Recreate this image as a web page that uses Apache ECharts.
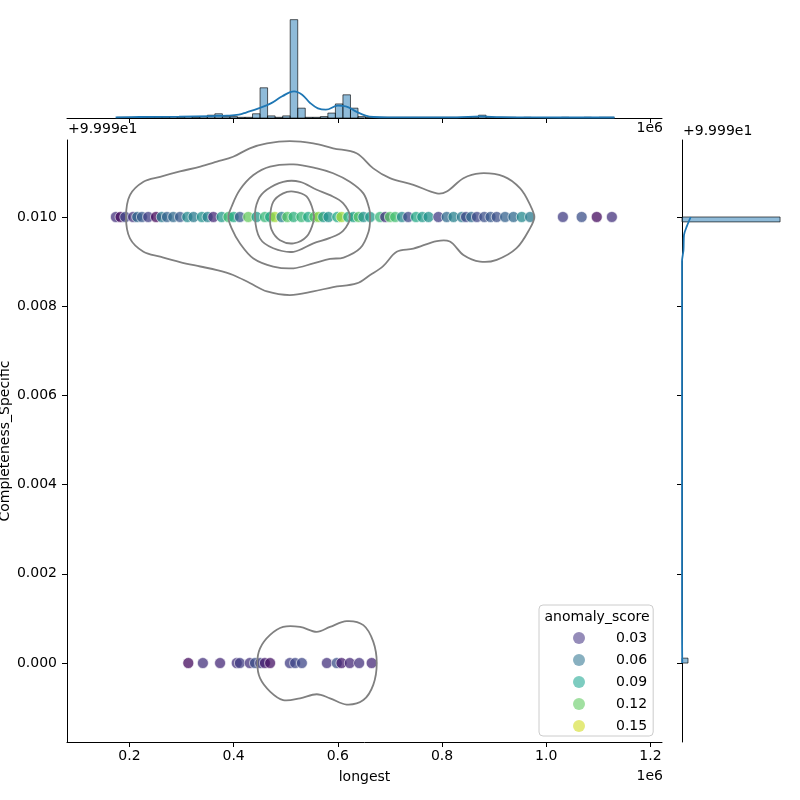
<!DOCTYPE html>
<html>
<head>
<meta charset="utf-8">
<script src="https://cdn.jsdelivr.net/npm/echarts@6/dist/echarts.min.js"></script>
<style>
  html, body { margin: 0; padding: 0; background: #fff; }
  #chart { width: 800px; height: 800px; }
</style>
</head>
<body>
<div id="chart"></div>
<script>
// longest in units of 1e6, Completeness_Specific as offset from 99.99
const upperLongest = [0.174, 0.183, 0.192, 0.207, 0.215, 0.224, 0.236, 0.251, 0.262, 0.272, 0.284, 0.297, 0.311, 0.323,
  0.339, 0.350, 0.361, 0.377, 0.390, 0.400, 0.412, 0.428, 0.444, 0.460, 0.470, 0.479, 0.492, 0.503, 0.515, 0.530,
  0.543, 0.555, 0.563, 0.572, 0.582, 0.599, 0.607, 0.620, 0.630, 0.640, 0.649, 0.662, 0.681, 0.691, 0.700, 0.710,
  0.723, 0.735, 0.750, 0.762, 0.774, 0.793, 0.809, 0.822, 0.838, 0.846, 0.856, 0.867, 0.881, 0.893, 0.905, 0.921,
  0.937, 0.953, 0.969, 1.032, 1.068, 1.097, 1.126];
const upperScore = [0.03, 0.012, 0.04, 0.03, 0.06, 0.05, 0.035, 0.01, 0.07, 0.055, 0.06, 0.05, 0.08, 0.07,
  0.085, 0.075, 0.025, 0.09, 0.115, 0.1, 0.05, 0.125, 0.09, 0.11, 0.1, 0.14, 0.075, 0.12, 0.105, 0.11,
  0.1, 0.12, 0.135, 0.09, 0.085, 0.1, 0.14, 0.1, 0.095, 0.12, 0.085, 0.09, 0.11, 0.03, 0.12, 0.115,
  0.08, 0.04, 0.1, 0.09, 0.085, 0.035, 0.06, 0.075, 0.07, 0.04, 0.06, 0.04, 0.045, 0.05, 0.045, 0.055,
  0.06, 0.08, 0.07, 0.035, 0.045, 0.012, 0.03];
const lowerLongest = [0.313, 0.341, 0.374, 0.406, 0.412, 0.431, 0.441, 0.451, 0.460, 0.470, 0.508, 0.518, 0.531,
  0.579, 0.598, 0.607, 0.623, 0.641, 0.665];
const lowerScore = [0.012, 0.03, 0.025, 0.03, 0.035, 0.03, 0.045, 0.035, 0.02, 0.015, 0.035, 0.04, 0.04,
  0.03, 0.045, 0.02, 0.025, 0.03, 0.025];
const upperValue = 0.01;
const lowerValue = 0.0;

// marginal histogram of longest
const topBinStart = 0.176;
const topBinWidth = 0.01446;
const topCounts = [1, 1, 1, 1, 1, 1, 1, 2, 1, 2, 1, 2, 4, 6, 2, 2, 1, 1, 6, 43, 3, 1, 3, 140, 14, 1, 1, 2, 7, 20,
  33, 14, 2, 1, 1, 1, 1, 1, 1, 1, 1, 1, 1, 1, 1, 1, 1, 1, 4, 1, 1, 1, 1, 0, 1, 0, 0, 0, 0, 1, 0, 0, 1, 0, 1, 1];
const topKde = [[0.1735, 0.9], [0.219, 1.4], [0.295, 1.9], [0.356, 2.8], [0.387, 3.3], [0.41, 4.7], [0.425, 8.1],
  [0.448, 13.8], [0.4705, 20.4], [0.4933, 30.9], [0.516, 38], [0.5315, 33.2], [0.5467, 21.4], [0.5618, 13.8],
  [0.5771, 11.8], [0.6, 17.5], [0.6152, 16.7], [0.6342, 9.5], [0.6533, 3.3], [0.6685, 1.4], [0.699, 1],
  [0.79, 0.9], [0.8284, 1], [0.874, 2.2], [0.9123, 1.2], [0.981, 0.8], [1.131, 0.7]];

// marginal histogram of Completeness_Specific: [from, to, count]
const rightBins = [[0, 0.00011, 19], [0.00989, 0.01, 310]];
const rightKde = [[0.8, 0], [0.3, 0.0004], [0, 0.001], [0, 0.009], [4.7, 0.00926], [6.3, 0.0096],
  [15.8, 0.0098], [27.5, 0.01]];

// joint kde contours
const contourLevels = [
  [[0.1935, 0.01], [0.201, 0.01049], [0.227, 0.01079], [0.259, 0.0109], [0.297, 0.01102], [0.336, 0.01113],
    [0.368, 0.01124], [0.399, 0.01135], [0.431, 0.01154], [0.464, 0.01165], [0.508, 0.0117], [0.553, 0.01165],
    [0.591, 0.01154], [0.636, 0.01143], [0.668, 0.01109], [0.700, 0.01087], [0.745, 0.01072], [0.790, 0.01053],
    [0.809, 0.01057], [0.841, 0.01087], [0.873, 0.01098], [0.918, 0.01091], [0.950, 0.01064], [0.969, 0.01027],
    [0.977, 0.01], [0.969, 0.00975], [0.943, 0.0093], [0.905, 0.00904], [0.873, 0.009], [0.841, 0.00915],
    [0.815, 0.00945], [0.790, 0.00946], [0.745, 0.00929], [0.713, 0.00922], [0.687, 0.0089], [0.662, 0.0087],
    [0.636, 0.00851], [0.591, 0.00843], [0.553, 0.00833], [0.508, 0.00825], [0.464, 0.00833], [0.431, 0.00852],
    [0.399, 0.0087], [0.368, 0.00881], [0.336, 0.00889], [0.297, 0.00899], [0.259, 0.00911], [0.227, 0.00922],
    [0.201, 0.00952]],
  [[0.390, 0.01], [0.396, 0.01023], [0.412, 0.01061], [0.438, 0.01094], [0.470, 0.01113], [0.515, 0.01118],
    [0.560, 0.01109], [0.591, 0.01098], [0.623, 0.01079], [0.649, 0.01053], [0.660, 0.0102], [0.662, 0.01],
    [0.659, 0.00967], [0.643, 0.0093], [0.611, 0.00909], [0.585, 0.00906], [0.553, 0.00896], [0.515, 0.00885],
    [0.476, 0.00889], [0.438, 0.00907], [0.412, 0.00941], [0.396, 0.00975]],
  [[0.441, 0.01], [0.447, 0.01038], [0.4635, 0.01061], [0.495, 0.01079], [0.5275, 0.01079], [0.5595, 0.01061],
    [0.585, 0.01049], [0.610, 0.01031], [0.623, 0.01], [0.610, 0.00969], [0.585, 0.00953], [0.553, 0.00941],
    [0.515, 0.00922], [0.476, 0.0093], [0.4505, 0.00952]],
  [[0.470, 0.01], [0.476, 0.01034], [0.495, 0.01053], [0.515, 0.01057], [0.540, 0.01046], [0.553, 0.01012],
    [0.553, 0.00989], [0.540, 0.00956], [0.515, 0.00941], [0.489, 0.00948], [0.473, 0.00971]],
  [[0.4455, 0], [0.4507, 0.00033], [0.470, 0.00063], [0.495, 0.00081], [0.5275, 0.00081], [0.5595, 0.0007],
    [0.585, 0.00081], [0.617, 0.00094], [0.649, 0.00085], [0.668, 0.00048], [0.6747, 0], [0.668, -0.00049],
    [0.649, -0.00083], [0.617, -0.00093], [0.585, -0.00079], [0.5595, -0.0007], [0.5275, -0.00079],
    [0.495, -0.00083], [0.470, -0.00064], [0.4507, -0.00034]]
];

const xTicks = [0.2, 0.4, 0.6, 0.8, 1.0, 1.2];
const yTicks = [0, 0.002, 0.004, 0.006, 0.008, 0.01];
const legendLabels = ['0.03', '0.06', '0.09', '0.12', '0.15'];
const legendColors = ['#7b6fa8', '#6a9cb0', '#5cbfb0', '#8ad88a', '#dde55a'];

const font = 'DejaVu Sans';
const fs = 14;
const viridis = ['#440154', '#482475', '#414487', '#355f8d', '#2a788e', '#21918c', '#22a884', '#44bf70',
  '#7ad151', '#bddf26', '#fde725'];

const points = upperLongest.map((x, i) => [x, upperValue, upperScore[i]])
  .concat(lowerLongest.map((x, i) => [x, lowerValue, lowerScore[i]]));
const topBars = topCounts
  .map((c, i) => [topBinStart + i * topBinWidth, topBinStart + (i + 1) * topBinWidth, c])
  .filter(d => d[2] > 0);

const axisLine = { show: true, onZero: false, lineStyle: { color: '#000', width: 1 } };
const barStyle = { fill: 'rgba(31,119,180,0.5)', stroke: 'rgba(0,0,0,0.7)', lineWidth: 0.9 };
const textFont = fs + 'px "DejaVu Sans"';

const chart = echarts.init(document.getElementById('chart'));
chart.setOption({
  animation: false,
  grid: [
    { left: 67, top: 140, width: 595, height: 602, outerBoundsMode: 'none', containLabel: false },
    { left: 67, top: 0, width: 595, height: 118, outerBoundsMode: 'none', containLabel: false },
    { left: 682, top: 140, width: 118, height: 602, outerBoundsMode: 'none', containLabel: false }
  ],
  xAxis: [
    {
      gridIndex: 0, type: 'value', min: 0.0802, max: 1.2222,
      name: 'longest', nameLocation: 'middle', nameGap: 28, nameMoveOverlap: false,
      nameTextStyle: { fontFamily: font, fontSize: fs, color: '#000' },
      axisLine, splitLine: { show: false },
      axisTick: { length: 5, lineStyle: { color: '#000' }, customValues: xTicks },
      axisLabel: { customValues: xTicks, margin: 7, fontFamily: font, fontSize: fs, color: '#000',
        formatter: v => v.toFixed(1) }
    },
    {
      gridIndex: 1, type: 'value', min: 0.0802, max: 1.2222,
      axisLine, splitLine: { show: false },
      axisTick: { length: 5, lineStyle: { color: '#000' }, customValues: xTicks },
      axisLabel: { show: false }
    },
    { gridIndex: 2, type: 'value', min: 0, max: 373, show: false }
  ],
  yAxis: [
    {
      gridIndex: 0, type: 'value', min: -0.00177, max: 0.011726,
      name: 'Completeness_Specific', nameLocation: 'middle', nameGap: 55, nameMoveOverlap: false,
      nameTextStyle: { fontFamily: font, fontSize: fs, color: '#000' },
      axisLine, splitLine: { show: false },
      axisTick: { length: 5, lineStyle: { color: '#000' }, customValues: yTicks },
      axisLabel: { customValues: yTicks, margin: 10, fontFamily: font, fontSize: fs, color: '#000',
        formatter: v => v.toFixed(3) }
    },
    { gridIndex: 1, type: 'value', min: 0, max: 168, show: false },
    {
      gridIndex: 2, type: 'value', min: -0.00177, max: 0.011726,
      axisLine, splitLine: { show: false },
      axisTick: { length: 5, lineStyle: { color: '#000' }, customValues: yTicks },
      axisLabel: { show: false }
    }
  ],
  visualMap: {
    show: false, type: 'continuous', seriesIndex: 0, dimension: 2,
    min: 0.007, max: 0.162, inRange: { color: viridis }
  },
  legend: {
    data: legendLabels, orient: 'vertical', left: 539, top: 605,
    padding: [26, 6, 3, 34], itemGap: 8, itemWidth: 12, itemHeight: 12, icon: 'circle',
    backgroundColor: 'rgba(255,255,255,0.8)', borderColor: '#cccccc', borderWidth: 1, borderRadius: 4,
    selectedMode: false,
    formatter: name => '{gap|}' + name,
    textStyle: { fontFamily: font, fontSize: fs, color: '#000', lineHeight: 14, rich: { gap: { width: 26 } } }
  },
  graphic: [
    { type: 'text', x: 68, y: 129, z: 10,
      style: { text: '+9.999e1', font: textFont, fill: '#000', align: 'left', verticalAlign: 'middle' } },
    { type: 'text', x: 663, y: 128, z: 10,
      style: { text: '1e6', font: textFont, fill: '#000', align: 'right', verticalAlign: 'middle' } },
    { type: 'text', x: 683, y: 131, z: 10,
      style: { text: '+9.999e1', font: textFont, fill: '#000', align: 'left', verticalAlign: 'middle' } },
    { type: 'text', x: 663, y: 776, z: 10,
      style: { text: '1e6', font: textFont, fill: '#000', align: 'right', verticalAlign: 'middle' } },
    { type: 'text', x: 597, y: 617, z: 10,
      style: { text: 'anomaly_score', font: textFont, fill: '#000', align: 'center', verticalAlign: 'middle' } }
  ],
  series: [
    {
      type: 'scatter', xAxisIndex: 0, yAxisIndex: 0, data: points, symbolSize: 11, z: 2,
      itemStyle: { opacity: 0.75, borderColor: '#fff', borderWidth: 0.8 }
    },
    {
      type: 'custom', xAxisIndex: 0, yAxisIndex: 0, z: 3,
      data: contourLevels.map((c, i) => [i]),
      renderItem: (params, api) => {
        const pts = contourLevels[params.dataIndex].map(p => api.coord(p));
        return {
          type: 'polygon', shape: { points: pts, smooth: 0.35 },
          style: { fill: 'none', stroke: '#808080', lineWidth: 1.8 }
        };
      }
    },
    {
      type: 'custom', xAxisIndex: 1, yAxisIndex: 1, data: topBars, encode: { x: [0, 1], y: 2 },
      renderItem: (params, api) => {
        const a = api.coord([api.value(0), api.value(2)]);
        const b = api.coord([api.value(1), 0]);
        return { type: 'rect', shape: { x: a[0], y: a[1], width: b[0] - a[0], height: b[1] - a[1] }, style: barStyle };
      }
    },
    {
      type: 'line', xAxisIndex: 1, yAxisIndex: 1, data: topKde, smooth: 0.4, showSymbol: false, z: 4,
      lineStyle: { color: '#1f77b4', width: 1.8 }
    },
    {
      type: 'custom', xAxisIndex: 2, yAxisIndex: 2, data: rightBins, encode: { x: 2, y: [0, 1] },
      renderItem: (params, api) => {
        const a = api.coord([0, api.value(1)]);
        const b = api.coord([api.value(2), api.value(0)]);
        return { type: 'rect', shape: { x: a[0], y: a[1], width: b[0] - a[0], height: b[1] - a[1] }, style: barStyle };
      }
    },
    {
      type: 'line', xAxisIndex: 2, yAxisIndex: 2, data: rightKde, smooth: 0.3, showSymbol: false, z: 4,
      lineStyle: { color: '#1f77b4', width: 1.8 }
    }
  ].concat(legendLabels.map((name, i) => ({
    type: 'scatter', name, xAxisIndex: 0, yAxisIndex: 0, data: [],
    itemStyle: { color: legendColors[i] }
  })))
});
</script>
</body>
</html>
